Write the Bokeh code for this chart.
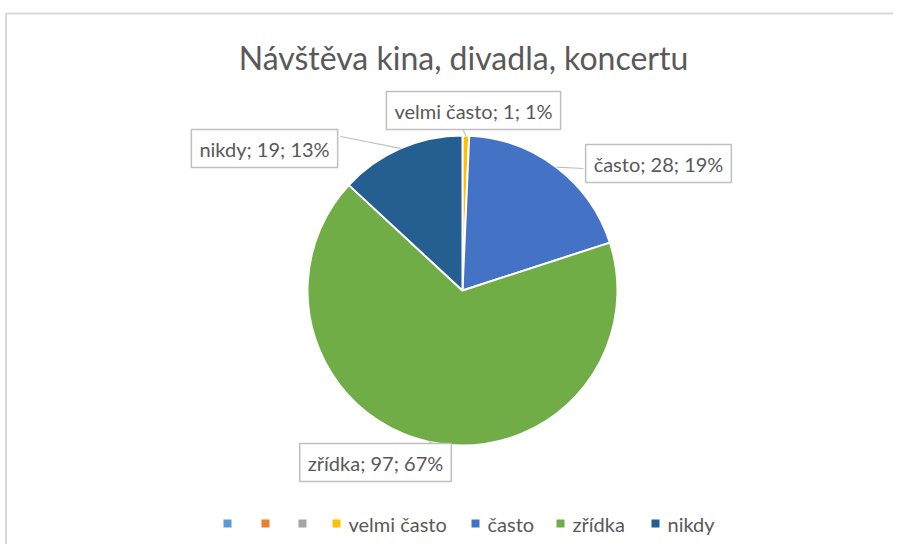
import math
from bokeh.plotting import figure
from bokeh.models import Range1d, ColumnDataSource
from bokeh.core.properties import value
from bokeh.embed import file_html
from bokeh.resources import INLINE

# ---- data ----
title_text = "Návštěva kina, divadla, koncertu"
categories = ["", "", "", "velmi často", "často", "zřídka", "nikdy"]
counts = [0, 0, 0, 1, 28, 97, 19]
colors = ["#5B9BD5", "#ED7D31", "#A5A5A5", "#FFC000", "#4472C4", "#70AD47", "#255E91"]

# ---- layout (page pixels -> data coords, 1 unit = 1 px) ----
W, H = 893, 544
def px(x):
    return x
def py(y):
    return H - y

CX, CY, R = px(462), py(290), 155
FONT = "Lato"
GREY = "#595959"

# label box centres (page px) for each non-zero slice
label_pos = {"velmi často": (473, 110), "často": (658, 163), "zřídka": (375, 462), "nikdy": (264, 148)}
# where the leader leaves the box (page px)
leader_from = {"velmi často": (462, 128), "často": (583, 168), "zřídka": (440, 447), "nikdy": (340, 136)}

p = figure(width=W, height=H, x_range=Range1d(0, W), y_range=Range1d(0, H),
           output_backend="svg", toolbar_location=None, min_border=0,
           x_axis_type=None, y_axis_type=None)
p.grid.visible = False
p.outline_line_color = None
p.background_fill_color = "white"
p.border_fill_color = "white"

# chart border
p.line(x=[px(5.5), px(5.5), W + 5], y=[-5, py(13), py(13)], line_color="#d9d9d9", line_width=2)

total = sum(counts)
starts, ends, mids = [], [], []
cum = 0.0
for c in counts:
    a0 = math.pi / 2 - 2 * math.pi * cum / total
    cum += c
    a1 = math.pi / 2 - 2 * math.pi * cum / total
    starts.append(a0)
    ends.append(a1)
    mids.append((a0 + a1) / 2)

nz = [i for i, c in enumerate(counts) if c > 0]
src = ColumnDataSource(dict(
    start=[starts[i] for i in nz], end=[ends[i] for i in nz], color=[colors[i] for i in nz]))
p.wedge(x=CX, y=CY, radius=R, start_angle="start", end_angle="end", direction="clock",
        fill_color="color", line_color="white", line_width=2, source=src)

# leaders
lx0, ly0, lx1, ly1 = [], [], [], []
for i in nz:
    name = categories[i]
    fx, fy = leader_from[name]
    lx0.append(px(fx)); ly0.append(py(fy))
    lx1.append(CX + R * math.cos(mids[i])); ly1.append(CY + R * math.sin(mids[i]))
p.segment(x0=lx0, y0=ly0, x1=lx1, y1=ly1, line_color="#bfbfbf", line_width=1.2)

# data labels
texts, tx, ty = [], [], []
for i in nz:
    name = categories[i]
    pct = round(100 * counts[i] / total)
    texts.append(f"{name}; {counts[i]}; {pct}%")
    x, y = label_pos[name]
    tx.append(px(x)); ty.append(py(y))
p.text(x=tx, y=ty, text=texts, text_font=value(FONT), text_font_size="20px",
       text_color=GREY, text_align="center", text_baseline="middle",
       background_fill_color="white", border_line_color="#bfbfbf", border_line_width=1.5,
       padding=[8, 7])

# title
p.text(x=[px(463)], y=[py(57)], text=[title_text], text_font=value(FONT), text_font_size="32px",
       text_color=GREY, text_align="center", text_baseline="middle")

# legend (manual, since first three entries have empty names)
leg_sq_x = [227, 265, 302, 336, 475, 560, 655]
leg_y = 523
p.scatter(x=[px(v) for v in leg_sq_x], y=[py(leg_y)] * len(leg_sq_x), marker="square", size=8,
          fill_color=colors, line_color=None)
p.text(x=[px(v + 12) for v in leg_sq_x], y=[py(leg_y)] * len(leg_sq_x), text=categories,
       text_font=value(FONT), text_font_size="20px", text_color=GREY,
       text_align="left", text_baseline="middle")

open("out.html", "w").write(file_html(p, INLINE))
